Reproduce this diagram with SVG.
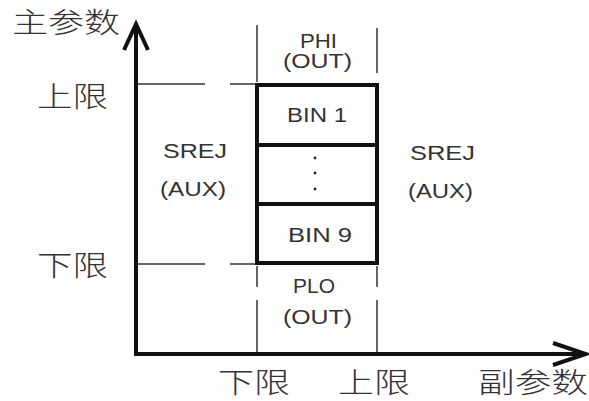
<svg xmlns="http://www.w3.org/2000/svg" width="589" height="401" viewBox="0 0 589 401">
<style>
.cjk{font-family:"Noto Sans CJK SC","Noto Sans CJK JP",sans-serif;font-size:28px;font-weight:300;fill:#333}
.lat{font-family:"Liberation Sans",Arial,sans-serif;font-size:20px;fill:#333}
.thin{stroke:#333;stroke-width:1.5;fill:none}
.thick{stroke:#111;stroke-width:4;fill:none}
</style>
<rect width="589" height="401" fill="#fff"/>
<g id="connectors">
<line class="thin" x1="137" y1="84" x2="205" y2="84"/>
<line class="thin" x1="230" y1="84" x2="257" y2="84"/>
<line class="thin" x1="137" y1="264" x2="205" y2="264"/>
<line class="thin" x1="230" y1="264" x2="257" y2="264"/>
<line class="thin" x1="257" y1="25" x2="257" y2="82"/>
<line class="thin" x1="377" y1="28" x2="377" y2="73"/>
<line class="thin" x1="257" y1="266" x2="257" y2="287"/>
<line class="thin" x1="257" y1="300" x2="257" y2="354"/>
<line class="thin" x1="377" y1="266" x2="377" y2="287"/>
<line class="thin" x1="377" y1="300" x2="377" y2="354"/>
</g>
<g id="axes">
<line class="thick" x1="136" y1="27" x2="136" y2="356"/>
<polyline class="thick" points="124,50 136,24 148,50" stroke-linejoin="miter"/>
<line class="thick" x1="134" y1="354" x2="585" y2="354"/>
<polyline class="thick" points="553,343 586,354 553,365"/>
</g>
<g id="box">
<rect class="thick" x="257" y="85" width="120" height="178"/>
<line class="thick" x1="257" y1="145" x2="377" y2="145"/>
<line class="thick" x1="257" y1="204" x2="377" y2="204"/>
<circle cx="315" cy="158" r="1.4" fill="#222"/>
<circle cx="315" cy="173" r="1.4" fill="#222"/>
<circle cx="315" cy="189" r="1.4" fill="#222"/>
</g>
<g id="labels">
<text class="cjk" x="12" y="33" textLength="108" lengthAdjust="spacingAndGlyphs">主参数</text>
<text class="cjk" x="37" y="107" textLength="71" lengthAdjust="spacingAndGlyphs">上限</text>
<text class="cjk" x="37" y="276" textLength="71" lengthAdjust="spacingAndGlyphs">下限</text>
<text class="cjk" x="218" y="393" textLength="72" lengthAdjust="spacingAndGlyphs">下限</text>
<text class="cjk" x="338" y="393" textLength="72" lengthAdjust="spacingAndGlyphs">上限</text>
<text class="cjk" x="478" y="393" textLength="110" lengthAdjust="spacingAndGlyphs">副参数</text>
<text class="lat" x="300" y="48" textLength="37" lengthAdjust="spacingAndGlyphs">PHI</text>
<text class="lat" x="283" y="68" textLength="69" lengthAdjust="spacingAndGlyphs">(OUT)</text>
<text class="lat" x="287" y="122" textLength="60" lengthAdjust="spacingAndGlyphs">BIN 1</text>
<text class="lat" x="288" y="242" textLength="64" lengthAdjust="spacingAndGlyphs">BIN 9</text>
<text class="lat" x="163" y="158" textLength="64" lengthAdjust="spacingAndGlyphs">SREJ</text>
<text class="lat" x="160" y="196" textLength="66" lengthAdjust="spacingAndGlyphs">(AUX)</text>
<text class="lat" x="410" y="160" textLength="65" lengthAdjust="spacingAndGlyphs">SREJ</text>
<text class="lat" x="408" y="198" textLength="65" lengthAdjust="spacingAndGlyphs">(AUX)</text>
<text class="lat" x="293" y="293" textLength="42" lengthAdjust="spacingAndGlyphs">PLO</text>
<text class="lat" x="283" y="324" textLength="69" lengthAdjust="spacingAndGlyphs">(OUT)</text>
</g>
</svg>
